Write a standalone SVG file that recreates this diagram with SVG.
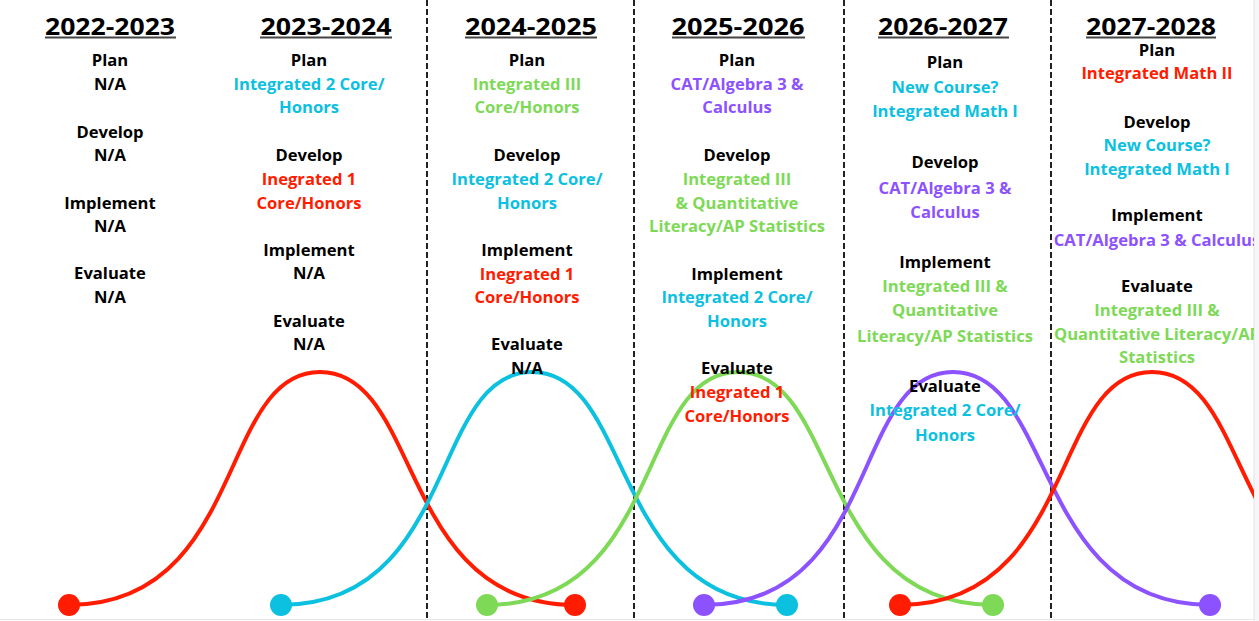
<svg xmlns="http://www.w3.org/2000/svg" width="1259" height="621" viewBox="0 0 1259 621">
<defs>
<style>
.hd{font-family:"Open Sans","Liberation Sans",sans-serif;font-weight:700;font-size:24px;fill:#000;text-anchor:middle}
.t{font-family:"Open Sans","Liberation Sans",sans-serif;font-weight:700;font-size:16.6px;text-anchor:middle}
.k{fill:#000}.r{fill:#ff1c00}.c{fill:#0cc0df}.g{fill:#7ed957}.p{fill:#8c52ff}
.ul{fill:#444}
.dash{stroke:#222;stroke-width:2;stroke-dasharray:6 3}
.cv{fill:none;stroke-width:4;stroke-linecap:round}
</style>
<clipPath id="clipR"><rect x="0" y="0" width="1254" height="621"/></clipPath>
</defs>
<rect x="0" y="0" width="1259" height="621" fill="#fff"/>
<rect x="1254" y="0" width="5" height="621" fill="#f6f6f8"/>
<line x1="1254" y1="0" x2="1254" y2="621" stroke="#e2e2e6" stroke-width="1"/>
<line x1="0" y1="619.5" x2="1254" y2="619.5" stroke="#e6e6ea" stroke-width="1"/>

<g id="dividers">
<line class="dash" x1="427" y1="0" x2="427" y2="618"/>
<line class="dash" x1="634" y1="0" x2="634" y2="618"/>
<line class="dash" x1="844" y1="0" x2="844" y2="618"/>
<line class="dash" x1="1051" y1="0" x2="1051" y2="618"/>
</g>

<g id="connectors" clip-path="url(#clipR)">
<path class="cv" stroke="#ff1c00" d="M69,605 C246,605 218,372 320,372 C422,372 398,605 575,605"/>
<path class="cv" stroke="#0cc0df" d="M281,605 C458,605 430,372 532,372 C634,372 610,605 787,605"/>
<path class="cv" stroke="#7ed957" d="M487,605 C664,605 636,372 738,372 C840,372 816,605 993,605"/>
<path class="cv" stroke="#8c52ff" d="M704,605 C881,605 851,372 953,372 C1055,372 1033,605 1210,605"/>
<path class="cv" stroke="#ff1c00" d="M900,605 C1077,605 1050,372 1152,372 C1254,372 1229,605 1406,605"/>
<circle cx="69" cy="605" r="11" fill="#ff1c00"/>
<circle cx="575" cy="605" r="11" fill="#ff1c00"/>
<circle cx="281" cy="605" r="11" fill="#0cc0df"/>
<circle cx="787" cy="605" r="11" fill="#0cc0df"/>
<circle cx="487" cy="605" r="11" fill="#7ed957"/>
<circle cx="993" cy="605" r="11" fill="#7ed957"/>
<circle cx="704" cy="605" r="11" fill="#8c52ff"/>
<circle cx="1210" cy="605" r="11" fill="#8c52ff"/>
<circle cx="900" cy="605" r="11" fill="#ff1c00"/>
</g>

<g id="col-2022">
<text class="hd" x="110" y="35" textLength="130" lengthAdjust="spacingAndGlyphs">2022-2023</text>
<rect class="ul" x="45" y="36.5" width="131" height="2"/>
<text class="t k" x="110" y="66">Plan</text>
<text class="t k" x="110" y="90">N/A</text>
<text class="t k" x="110" y="138">Develop</text>
<text class="t k" x="110" y="161">N/A</text>
<text class="t k" x="110" y="209">Implement</text>
<text class="t k" x="110" y="232">N/A</text>
<text class="t k" x="110" y="279">Evaluate</text>
<text class="t k" x="110" y="303">N/A</text>
</g>

<g id="col-2023">
<text class="hd" x="326" y="35" textLength="131" lengthAdjust="spacingAndGlyphs">2023-2024</text>
<rect class="ul" x="260" y="36.5" width="132" height="2"/>
<text class="t k" x="309" y="66">Plan</text>
<text class="t c" x="309" y="90">Integrated 2 Core/</text>
<text class="t c" x="309" y="113">Honors</text>
<text class="t k" x="309" y="161">Develop</text>
<text class="t r" x="309" y="185">Inegrated 1</text>
<text class="t r" x="309" y="209">Core/Honors</text>
<text class="t k" x="309" y="256">Implement</text>
<text class="t k" x="309" y="279">N/A</text>
<text class="t k" x="309" y="327">Evaluate</text>
<text class="t k" x="309" y="350">N/A</text>
</g>

<g id="col-2024">
<text class="hd" x="531" y="35" textLength="132" lengthAdjust="spacingAndGlyphs">2024-2025</text>
<rect class="ul" x="465" y="36.5" width="132" height="2"/>
<text class="t k" x="527" y="66">Plan</text>
<text class="t g" x="527" y="90">Integrated III</text>
<text class="t g" x="527" y="113">Core/Honors</text>
<text class="t k" x="527" y="161">Develop</text>
<text class="t c" x="527" y="185">Integrated 2 Core/</text>
<text class="t c" x="527" y="209">Honors</text>
<text class="t k" x="527" y="256">Implement</text>
<text class="t r" x="527" y="280">Inegrated 1</text>
<text class="t r" x="527" y="303">Core/Honors</text>
<text class="t k" x="527" y="350">Evaluate</text>
<text class="t k" x="527" y="374">N/A</text>
</g>

<g id="col-2025">
<text class="hd" x="738" y="35" textLength="133" lengthAdjust="spacingAndGlyphs">2025-2026</text>
<rect class="ul" x="672" y="36.5" width="133" height="2"/>
<text class="t k" x="737" y="66">Plan</text>
<text class="t p" x="737" y="90">CAT/Algebra 3 &amp;</text>
<text class="t p" x="737" y="113">Calculus</text>
<text class="t k" x="737" y="161">Develop</text>
<text class="t g" x="737" y="185">Integrated III</text>
<text class="t g" x="737" y="209">&amp; Quantitative</text>
<text class="t g" x="737" y="232">Literacy/AP Statistics</text>
<text class="t k" x="737" y="280">Implement</text>
<text class="t c" x="737" y="303">Integrated 2 Core/</text>
<text class="t c" x="737" y="327">Honors</text>
<text class="t k" x="737" y="374">Evaluate</text>
<text class="t r" x="737" y="398">Inegrated 1</text>
<text class="t r" x="737" y="422">Core/Honors</text>
</g>

<g id="col-2026">
<text class="hd" x="943" y="35" textLength="130" lengthAdjust="spacingAndGlyphs">2026-2027</text>
<rect class="ul" x="878" y="36.5" width="131" height="2"/>
<text class="t k" x="945" y="68">Plan</text>
<text class="t c" x="945" y="93">New Course?</text>
<text class="t c" x="945" y="117">Integrated Math I</text>
<text class="t k" x="945" y="168">Develop</text>
<text class="t p" x="945" y="194">CAT/Algebra 3 &amp;</text>
<text class="t p" x="945" y="218">Calculus</text>
<text class="t k" x="945" y="268">Implement</text>
<text class="t g" x="945" y="292">Integrated III &amp;</text>
<text class="t g" x="945" y="316">Quantitative</text>
<text class="t g" x="945" y="342">Literacy/AP Statistics</text>
<text class="t k" x="945" y="392">Evaluate</text>
<text class="t c" x="945" y="416">Integrated 2 Core/</text>
<text class="t c" x="945" y="441">Honors</text>
</g>

<g id="col-2027" clip-path="url(#clipR)">
<text class="hd" x="1151" y="35" textLength="130" lengthAdjust="spacingAndGlyphs">2027-2028</text>
<rect class="ul" x="1086" y="36.5" width="130" height="2"/>
<text class="t k" x="1157" y="56">Plan</text>
<text class="t r" x="1157" y="79">Integrated Math II</text>
<text class="t k" x="1157" y="128">Develop</text>
<text class="t c" x="1157" y="151">New Course?</text>
<text class="t c" x="1157" y="175">Integrated Math I</text>
<text class="t k" x="1157" y="221">Implement</text>
<text class="t p" x="1157" y="246">CAT/Algebra 3 &amp; Calculus</text>
<text class="t k" x="1157" y="292">Evaluate</text>
<text class="t g" x="1157" y="316">Integrated III &amp;</text>
<text class="t g" x="1157" y="340">Quantitative Literacy/AP</text>
<text class="t g" x="1157" y="363">Statistics</text>
</g>
</svg>
